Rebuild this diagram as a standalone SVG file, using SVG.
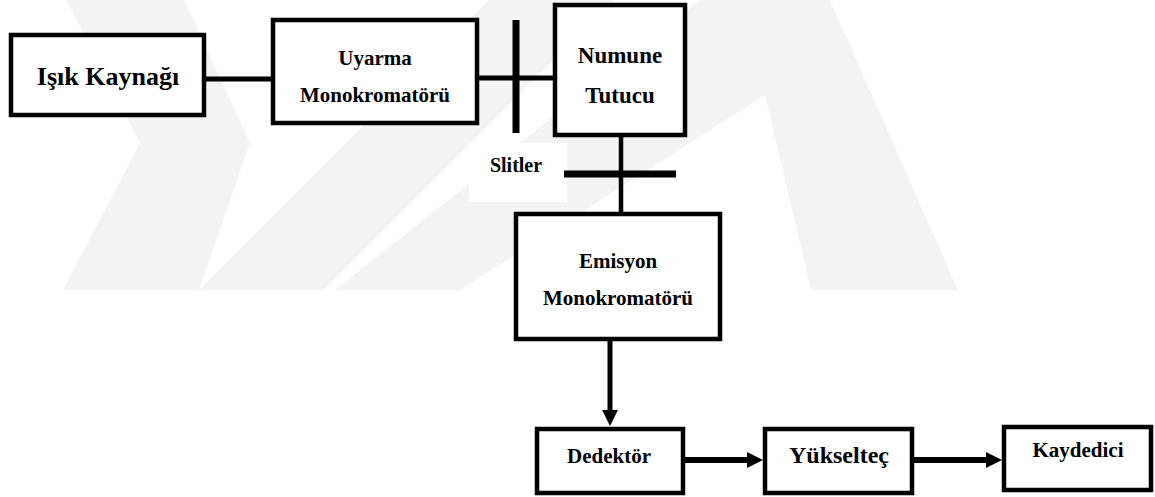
<svg xmlns="http://www.w3.org/2000/svg" width="1155" height="497" viewBox="0 0 1155 497">
  <style>
    .box { fill: #ffffff; stroke: #000000; stroke-width: 4.5; }
    .lbl { font-family: "Liberation Serif", "Times New Roman", serif; font-weight: bold; fill: #000000; text-anchor: middle; }
    .ln { stroke: #000000; fill: none; }
    .wm { fill: #f3f3f3; stroke: none; }
  </style>
  <defs>
    <marker id="arrow" viewBox="0 0 16 16" markerWidth="16" markerHeight="16" refX="0" refY="8" orient="auto" markerUnits="userSpaceOnUse">
      <path d="M0,0 L16,8 L0,16 Z" fill="#000000"/>
    </marker>
  </defs>
  <rect width="1155" height="497" fill="#ffffff"/>
  <g id="watermark">
    <polygon class="wm" points="66,0 184,0 250,143 199,290 63,290 140,143"/>
    <polygon class="wm" points="199,290 324,290 614,0 489,0"/>
    <polygon class="wm" points="335,290 700,0 830,0 958,290 811,290 765,95 460,290"/>
  </g>
  <rect id="slit-label-bg" x="469" y="143" width="98" height="59" fill="#ffffff"/>
  <g id="connectors">
    <line class="ln" x1="206" y1="79" x2="271" y2="79" stroke-width="5"/>
    <line class="ln" x1="479" y1="78" x2="553" y2="78" stroke-width="5"/>
    <line class="ln" x1="516" y1="20" x2="516" y2="133" stroke-width="7"/>
    <line class="ln" x1="621" y1="137" x2="621" y2="212" stroke-width="4.5"/>
    <line class="ln" x1="564" y1="174" x2="676" y2="174" stroke-width="7"/>
    <line class="ln" x1="610" y1="341" x2="610" y2="410" stroke-width="5" marker-end="url(#arrow)"/>
    <line class="ln" x1="685" y1="460" x2="747" y2="460" stroke-width="6" marker-end="url(#arrow)"/>
    <line class="ln" x1="914" y1="460" x2="986" y2="460" stroke-width="6" marker-end="url(#arrow)"/>
  </g>
  <text id="slitler" class="lbl" x="516" y="172" font-size="20">Slitler</text>
  <g id="isik-kaynagi">
    <rect class="box" x="11" y="35" width="193" height="80"/>
    <text class="lbl" x="108" y="85" font-size="26">Işık Kaynağı</text>
  </g>
  <g id="uyarma-monokromatoru">
    <rect class="box" x="273" y="20" width="204" height="103"/>
    <text class="lbl" x="375" y="65" font-size="21">Uyarma</text>
    <text class="lbl" x="375" y="102" font-size="21">Monokromatörü</text>
  </g>
  <g id="numune-tutucu">
    <rect class="box" x="555" y="5" width="130" height="130"/>
    <text class="lbl" x="620" y="63" font-size="23">Numune</text>
    <text class="lbl" x="620" y="103" font-size="23">Tutucu</text>
  </g>
  <g id="emisyon-monokromatoru">
    <rect class="box" x="516" y="214" width="204" height="125"/>
    <text class="lbl" x="618" y="268" font-size="21">Emisyon</text>
    <text class="lbl" x="618" y="305" font-size="21">Monokromatörü</text>
  </g>
  <g id="dedektor">
    <rect class="box" x="537" y="429" width="146" height="64"/>
    <text class="lbl" x="609" y="463" font-size="21">Dedektör</text>
  </g>
  <g id="yukseltec">
    <rect class="box" x="765" y="429" width="147" height="64"/>
    <text class="lbl" x="839" y="463" font-size="24">Yükselteç</text>
  </g>
  <g id="kaydedici">
    <rect class="box" x="1004" y="427" width="147" height="63"/>
    <text class="lbl" x="1078" y="457" font-size="21">Kaydedici</text>
  </g>
</svg>
